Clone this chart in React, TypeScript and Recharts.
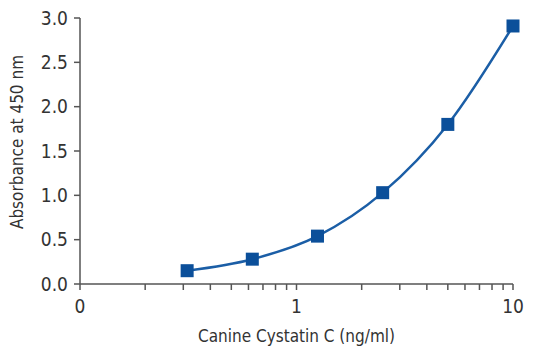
import { LineChart, Line, XAxis, YAxis } from 'recharts';

// 표준곡선 데이터 (ng/ml vs OD450)
const concentrations = [0.3125, 0.625, 1.25, 2.5, 5, 10];
const absorbance = [0.15, 0.28, 0.54, 1.03, 1.8, 2.91];

const xMajorTicks = [0.1, 1, 10];
const xMajorLabels = ['0', '1', '10'];
const xMinorTicks = [0.2, 0.3, 0.4, 0.5, 0.6, 0.7, 0.8, 0.9, 2, 3, 4, 5, 6, 7, 8, 9];
const yTicks = [0, 0.5, 1, 1.5, 2, 2.5, 3];

const FONT = '"Liberation Sans Narrow", "DejaVu Sans Condensed", "Arial Narrow", sans-serif';
const AXIS_COLOR = '#555';
const TEXT_COLOR = '#333';

const data = concentrations.map((c, i) => ({ conc: c, od: absorbance[i] }));

const allXTicks = [...xMajorTicks, ...xMinorTicks].sort((a, b) => a - b);

function SquareDot(props: any) {
  const { cx, cy } = props;
  if (cx == null || cy == null) return null;
  const s = 13;
  return <rect x={cx - s / 2} y={cy - s / 2} width={s} height={s} fill="#0b4f9a" />;
}

// 세로 축 제목 (살짝 위로 올림)
function YTitle(props: any) {
  const { viewBox } = props;
  const x = viewBox.x + 23;
  const y = viewBox.y + viewBox.height / 2 - 9;
  return (
    <text
      x={x}
      y={y}
      transform={`rotate(-90, ${x}, ${y})`}
      textAnchor="middle"
      fill={TEXT_COLOR}
      fontSize={17}
      fontFamily={FONT}
    >
      Absorbance at 450 nm
    </text>
  );
}

export default function App() {
  return (
    <div style={{ position: 'absolute', left: 0, top: 0, background: '#fff', fontFamily: FONT }}>
      <LineChart width={552} height={356} data={data} margin={{ top: 18, right: 39, left: 0, bottom: 0 }}>
        <XAxis
          dataKey="conc"
          type="number"
          scale="log"
          domain={[0.1, 10]}
          ticks={allXTicks}
          interval={0}
          height={72}
          stroke={AXIS_COLOR}
          strokeWidth={1.5}
          tickSize={6}
          tickMargin={10}
          tick={{ fill: TEXT_COLOR, fontSize: 19, fontFamily: FONT }}
          tickFormatter={(v: number) => {
            const i = xMajorTicks.indexOf(v);
            return i >= 0 ? xMajorLabels[i] : '';
          }}
          label={{
            value: 'Canine Cystatin C (ng/ml)',
            position: 'insideBottom',
            offset: 14,
            style: { fill: TEXT_COLOR, fontSize: 17, fontFamily: FONT }
          }}
        />
        <YAxis
          type="number"
          domain={[0, 3]}
          ticks={yTicks}
          interval={0}
          width={80}
          stroke={AXIS_COLOR}
          strokeWidth={1.5}
          tickSize={6}
          tickMargin={6}
          tick={{ fill: TEXT_COLOR, fontSize: 19, fontFamily: FONT }}
          tickFormatter={(v: number) => v.toFixed(1)}
          label={<YTitle />}
        />
        <Line
          type="monotone"
          dataKey="od"
          stroke="#1b5ea6"
          strokeWidth={2.5}
          dot={<SquareDot />}
          activeDot={false}
          isAnimationActive={false}
        />
      </LineChart>
    </div>
  );
}
